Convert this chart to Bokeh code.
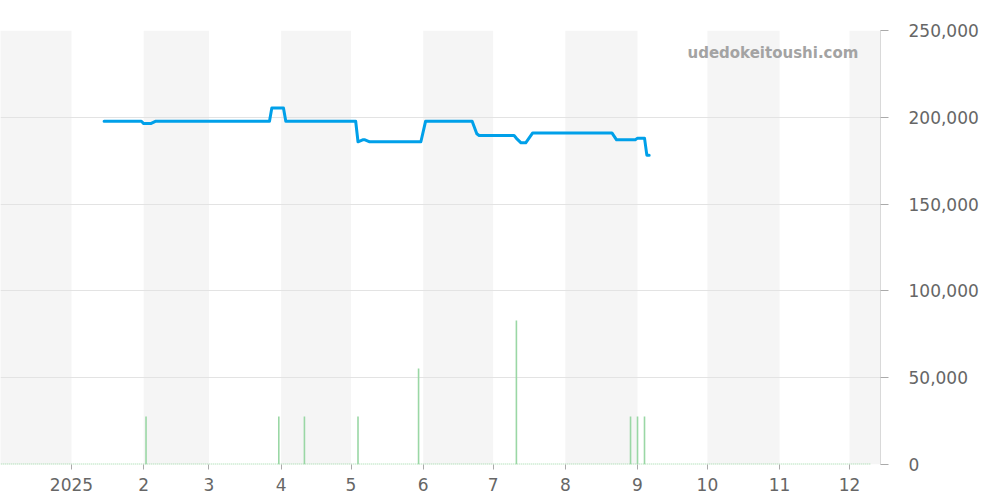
import pandas as pd
from bokeh.plotting import figure
from bokeh.models import Range1d, FixedTicker, NumeralTickFormatter, CustomJSTickFormatter, Label, ColumnDataSource
from bokeh.embed import file_html
from bokeh.resources import INLINE

# ---- data ----
price_dates = ["2025-01-15", "2025-01-31", "2025-02-01", "2025-02-04", "2025-02-06",
               "2025-03-27", "2025-03-28", "2025-04-02", "2025-04-03",
               "2025-05-03", "2025-05-04", "2025-05-06", "2025-05-07", "2025-05-09",
               "2025-05-31", "2025-06-02", "2025-06-22", "2025-06-24", "2025-06-25",
               "2025-07-10", "2025-07-11", "2025-07-13", "2025-07-15", "2025-07-18",
               "2025-08-21", "2025-08-23", "2025-08-31", "2025-09-01", "2025-09-04",
               "2025-09-05", "2025-09-06"]
price_values = [197700, 197700, 196400, 196400, 197700,
                197700, 205400, 205400, 197700,
                197700, 185900, 187000, 187000, 185900,
                185900, 197700, 197700, 190500, 189500,
                189500, 187900, 185300, 185300, 191000,
                191000, 187000, 187000, 188000, 188000,
                178200, 178200]

vol_dates = ["2025-02-02", "2025-03-31", "2025-04-11", "2025-05-04", "2025-05-30",
             "2025-07-11", "2025-08-29", "2025-09-01", "2025-09-04"]
vol_values = [27600, 27600, 27600, 27600, 55300, 82900, 27600, 27600, 27600]
vol_baseline_dates = ["2024-12-01", "2025-12-10"]
vol_baseline_values = [0, 0]

band_starts = ["2024-12-01", "2025-02-01", "2025-04-01", "2025-06-01", "2025-08-01", "2025-10-01", "2025-12-01"]
band_ends = ["2025-01-01", "2025-03-01", "2025-05-01", "2025-07-01", "2025-09-01", "2025-11-01", "2026-01-01"]

tick_dates = ["2025-01-01", "2025-02-01", "2025-03-01", "2025-04-01", "2025-05-01", "2025-06-01",
              "2025-07-01", "2025-08-01", "2025-09-01", "2025-10-01", "2025-11-01", "2025-12-01"]
tick_labels = ["2025", "2", "3", "4", "5", "6", "7", "8", "9", "10", "11", "12"]
y_ticks = [0, 50000, 100000, 150000, 200000, 250000]

watermark = "udedokeitoushi.com"

# ---- build ----
def ms(s):
    return pd.Timestamp(s).value / 1e6

x_start = pd.Timestamp("2024-12-01 12:30")
x_end = pd.Timestamp("2025-12-14 07:30")

p = figure(frame_width=880, frame_height=434, x_axis_type="datetime", y_axis_location="right",
           output_backend="svg", toolbar_location=None,
           x_range=Range1d(x_start, x_end), y_range=Range1d(0, 250000),
           min_border_left=0, min_border_top=30, min_border_right=100, min_border_bottom=30)
p.outline_line_color = None
p.background_fill_color = "white"
p.border_fill_color = "white"

# month bands
bands = ColumnDataSource(dict(left=pd.to_datetime(band_starts), right=pd.to_datetime(band_ends)))
p.quad(left="left", right="right", bottom=0, top=250000, source=bands,
       fill_color="#f5f5f5", line_color=None, level="image")

# volume
p.line(pd.to_datetime(vol_baseline_dates), vol_baseline_values, line_color="#9ad7a5",
       line_width=2, line_dash="1 1")
vd = pd.to_datetime(vol_dates)
p.segment(x0=vd, y0=[0] * len(vol_values), x1=vd, y1=vol_values, line_color="#9ad7a5", line_width=1.6)

# price
p.line(pd.to_datetime(price_dates), price_values, line_color="#00a0e9", line_width=3,
       line_join="round", line_cap="round")

# axes
tick_ms = [ms(d) for d in tick_dates]
xa = p.xaxis[0]
xa.ticker = FixedTicker(ticks=tick_ms, minor_ticks=[])
xa.formatter = CustomJSTickFormatter(args=dict(tpos=tick_ms, tlab=tick_labels), code="""
const i = tpos.findIndex(t => Math.abs(t - tick) < 1000);
return i >= 0 ? tlab[i] : '';
""")
xa.axis_line_color = None
xa.major_tick_line_color = "#aaaaaa"
xa.major_tick_in = 0
xa.major_tick_out = 5
xa.minor_tick_line_color = None
xa.major_label_standoff = 8
xa.major_label_text_font = "DejaVu Sans"
xa.major_label_text_font_size = "17px"
xa.major_label_text_color = "#666666"

ya = p.yaxis[0]
ya.ticker = FixedTicker(ticks=y_ticks, minor_ticks=[])
ya.formatter = NumeralTickFormatter(format="0,0")
ya.axis_line_color = "#d9d9d9"
ya.major_tick_line_color = "#aaaaaa"
ya.major_tick_in = 0
ya.major_tick_out = 8
ya.minor_tick_line_color = None
ya.major_label_standoff = 20
ya.major_label_text_font = "DejaVu Sans"
ya.major_label_text_font_size = "17px"
ya.major_label_text_color = "#666666"

p.xgrid.visible = False
p.ygrid.ticker = FixedTicker(ticks=y_ticks)
p.ygrid.grid_line_color = "#e3e3e3"

p.add_layout(Label(x=ms("2025-12-04 20:00"), y=237300, text=watermark, text_align="right",
                   text_baseline="middle", text_font="DejaVu Sans", text_font_style="bold",
                   text_font_size="15px", text_color="#a3a3a3"))

open("out.html", "w").write(file_html(p, INLINE))
